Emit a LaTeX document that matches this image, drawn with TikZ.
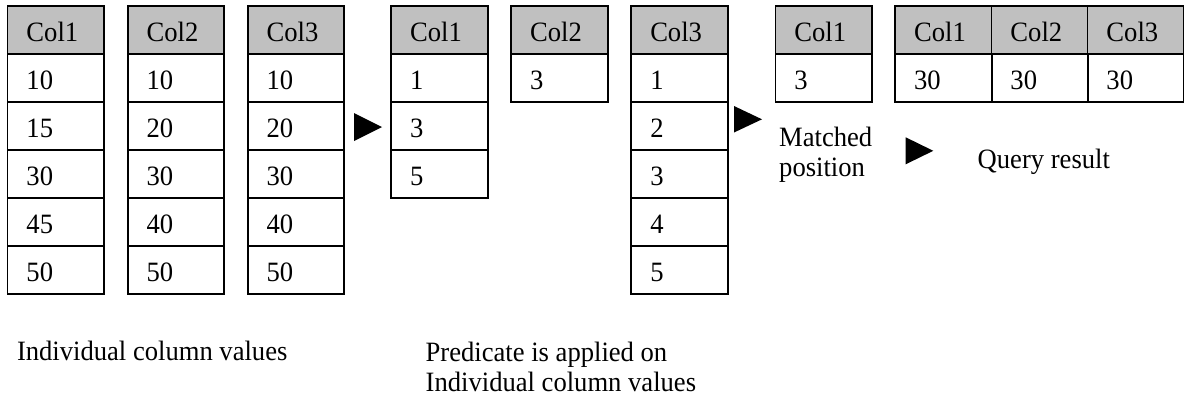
\documentclass[tikz,border=0pt]{standalone}
\usepackage{fontspec}
\setmainfont[FakeStretch=0.95]{Liberation Serif}
\definecolor{headgray}{RGB}{192,192,192}
\newcommand\bodyfont{\fontsize{28}{30}\selectfont}
\tikzset{
  cell/.style={draw, line width=1.8pt, minimum width=96.5pt, minimum height=48pt,
    text width=58.5pt, inner xsep=19pt, inner ysep=0pt, align=left,
    text height=23pt, text depth=0pt, font=\bodyfont},
  head/.style={cell, fill=headgray},
  caption/.style={anchor=base west, inner sep=0pt, font=\bodyfont},
  pointer/.style={fill=black}
}
% one column store: name, x centre, header, list of values
\newcommand\storecol[4]{%
  \node[head] (#1-0) at (#2,30) {#3};
  \foreach \v [count=\i] in {#4} {\node[cell] (#1-\i) at (#2,{30+48*\i}) {\v};}
}
\begin{document}
\begin{tikzpicture}[x=1pt, y=-1pt]
  \useasboundingbox (0,0) rectangle (1184,397);

  % stored column values
  \storecol{a}{55.75}{Col1}{10,15,30,45,50}
  \storecol{b}{175.85}{Col2}{10,20,30,40,50}
  \storecol{c}{295.85}{Col3}{10,20,30,40,50}

  % positions where the predicate holds
  \storecol{d}{439.35}{Col1}{1,3,5}
  \storecol{e}{559.35}{Col2}{3}
  \storecol{f}{679.5}{Col3}{1,2,3,4,5}

  % intersected position
  \storecol{g}{823.65}{Col1}{3}

  % reconstructed row
  \storecol{r1}{943.35}{Col1}{30}
  \storecol{r2}{1039.7}{Col2}{30}
  \storecol{r3}{1135.7}{Col3}{30}

  % step pointers
  \fill[pointer] (354,113) -- (382,127) -- (354,141) -- cycle;
  \fill[pointer] (734,106) -- (762,119.3) -- (734,132.5) -- cycle;
  \fill[pointer] (905.7,137.3) -- (933.3,150.8) -- (905.7,164.3) -- cycle;

  % captions
  \node[caption] (matched1) at (779,146.5) {Matched};
  \node[caption] (matched2) at (779,176.5) {position};
  \node[caption] (result) at (977.5,168) {Query result};
  \node[caption] (indiv) at (16.8,360.7) {Individual column values};
  \node[caption] (pred1) at (425.5,361.7) {Predicate is applied on};
  \node[caption] (pred2) at (425.5,391.7) {Individual column values};
\end{tikzpicture}
\end{document}
